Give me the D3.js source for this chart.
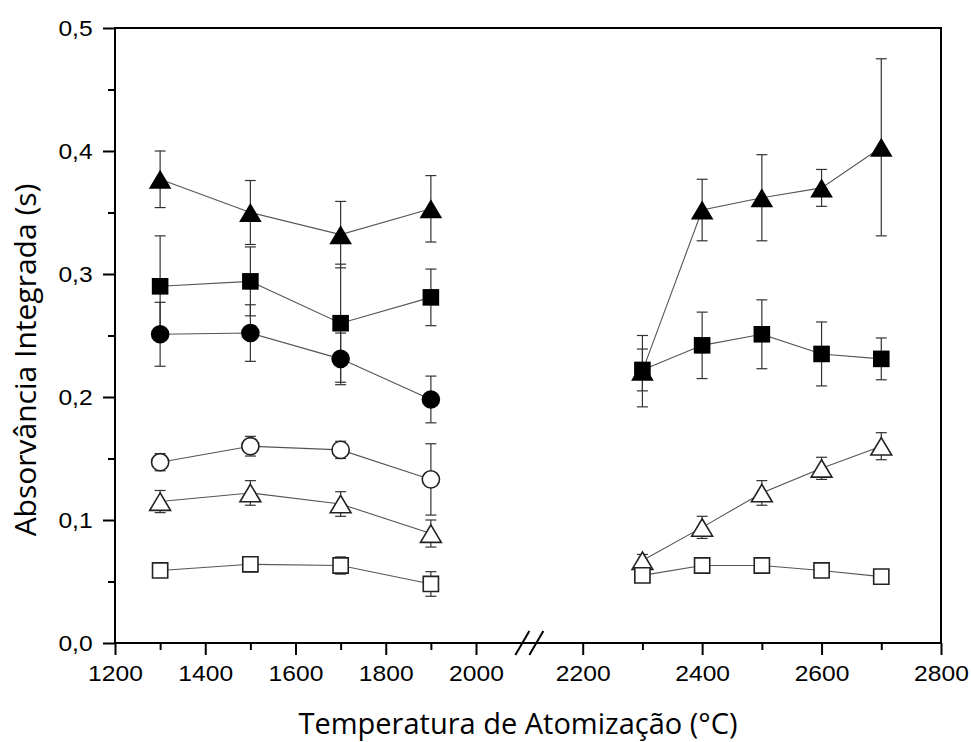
<!DOCTYPE html>
<html>
<head>
<meta charset="utf-8">
<script src="https://cdnjs.cloudflare.com/ajax/libs/d3/7.8.5/d3.min.js"></script>
<style>
    body { margin: 0; background: #fff; }
</style>
</head>
<body>
<div id="plot"></div>
<script>
//Temperatures on both sides of the axis break
const tempLeft = [1300, 1500, 1700, 1900];
const tempRight = [2300, 2400, 2500, 2600, 2700];

//Tick values
const xTicksLeft = [1200, 1400, 1600, 1800, 2000];
const xMinorLeft = [1300, 1500, 1700, 1900];
const xTicksRight = [2200, 2400, 2600, 2800];
const xMinorRight = [2300, 2500, 2700];
const yTicks = [0, 0.1, 0.2, 0.3, 0.4, 0.5];
const yMinor = [0.05, 0.15, 0.25, 0.35, 0.45];

//Integrated absorbance and error, one array per marker type
const filledTriLeft = [0.377, 0.350, 0.332, 0.353];
const filledTriLeftErr = [0.023, 0.026, 0.027, 0.027];
const filledTriRight = [0.221, 0.352, 0.362, 0.370, 0.403];
const filledTriRightErr = [0.029, 0.025, 0.035, 0.015, 0.072];

const filledSqLeft = [0.290, 0.294, 0.260, 0.281];
const filledSqLeftErr = [0.041, 0.028, 0.048, 0.023];
const filledSqRight = [0.222, 0.242, 0.251, 0.235, 0.231];
const filledSqRightErr = [0.017, 0.027, 0.028, 0.026, 0.017];

const filledCircLeft = [0.251, 0.252, 0.231, 0.198];
const filledCircLeftErr = [0.026, 0.023, 0.021, 0.019];

const openCircLeft = [0.147, 0.160, 0.157, 0.133];
const openCircLeftErr = [0.007, 0.008, 0.007, 0.029];

const openTriLeft = [0.115, 0.122, 0.113, 0.089];
const openTriLeftErr = [0.009, 0.010, 0.010, 0.011];
const openTriRight = [0.067, 0.094, 0.122, 0.142, 0.160];
const openTriRightErr = [0.005, 0.009, 0.010, 0.009, 0.011];

const openSqLeft = [0.059, 0.064, 0.063, 0.048];
const openSqLeftErr = [0.004, 0.006, 0.007, 0.010];
const openSqRight = [0.055, 0.063, 0.063, 0.059, 0.054];
const openSqRightErr = [0.004, 0.006, 0.006, 0.004, 0.004];

//Series table built from the arrays above
const series = [
    { shape: "triangle", filled: true, left: filledTriLeft, leftErr: filledTriLeftErr, right: filledTriRight, rightErr: filledTriRightErr },
    { shape: "square", filled: true, left: filledSqLeft, leftErr: filledSqLeftErr, right: filledSqRight, rightErr: filledSqRightErr },
    { shape: "circle", filled: true, left: filledCircLeft, leftErr: filledCircLeftErr, right: [], rightErr: [] },
    { shape: "circle", filled: false, left: openCircLeft, leftErr: openCircLeftErr, right: [], rightErr: [] },
    { shape: "triangle", filled: false, left: openTriLeft, leftErr: openTriLeftErr, right: openTriRight, rightErr: openTriRightErr },
    { shape: "square", filled: false, left: openSqLeft, leftErr: openSqLeftErr, right: openSqRight, rightErr: openSqRightErr }
];

const w = 971;
const h = 742;
const tickFont = "'Liberation Sans', Arial, sans-serif";
const titleFont = "'Open Sans', sans-serif";
const svg = d3.select("#plot")
    .append("svg")
    .attr("width", w)
    .attr("height", h);

//Broken x axis: two scales with different spacing
const xLeft = d3.scaleLinear().domain([1200, 2000]).range([115, 476]);
const xRight = d3.scaleLinear().domain([2200, 2800]).range([582.7, 941]);
const y = d3.scaleLinear().domain([0, 0.5]).range([643, 28]);

//Decimal comma for the y labels
const ptBR = d3.formatLocale({ decimal: ",", thousands: ".", grouping: [3], currency: ["", ""] });
const yFormat = ptBR.format(".1f");

//Turn each segment into a flat list of points
const points = [];
series.forEach((s, si) => {
    s.left.forEach((v, i) => points.push({ si: si, seg: 0, x: xLeft(tempLeft[i]), v: v, e: s.leftErr[i] }));
    s.right.forEach((v, i) => points.push({ si: si, seg: 1, x: xRight(tempRight[i]), v: v, e: s.rightErr[i] }));
});

//Connecting lines, one per series and per segment
const line = d3.line().x(d => d.x).y(d => y(d.v));
series.forEach((s, si) => {
    [0, 1].forEach(seg => {
        const pts = points.filter(p => p.si === si && p.seg === seg);
        if (pts.length < 2) return;
        svg.append("path")
            .attr("d", line(pts))
            .attr("fill", "none")
            .attr("stroke", "#555")
            .attr("stroke-width", 1.1);
    });
});

//Error bars with caps
const capHalf = 5.5;
const err = svg.append("g")
    .attr("stroke", "#333")
    .attr("stroke-width", 1.2);
points.forEach(p => {
    const y0 = y(p.v - p.e);
    const y1 = y(p.v + p.e);
    err.append("line").attr("x1", p.x).attr("x2", p.x).attr("y1", y0).attr("y2", y1);
    err.append("line").attr("x1", p.x - capHalf).attr("x2", p.x + capHalf).attr("y1", y0).attr("y2", y0);
    err.append("line").attr("x1", p.x - capHalf).attr("x2", p.x + capHalf).attr("y1", y1).attr("y2", y1);
});

//Marker shapes, centred on the bounding box
const circlePath = (r) => d3.arc()({ innerRadius: 0, outerRadius: r, startAngle: 0, endAngle: 2 * Math.PI });
const markerPath = (s) => {
    if (s.filled) {
        if (s.shape === "triangle") return "M0,-9.5L11.3,9.5L-11.3,9.5Z";
        if (s.shape === "square") return "M-8.3,-8.3H8.3V8.3H-8.3Z";
        return circlePath(9.3);
    }
    //open markers a bit smaller so the stroke keeps the same outer size
    if (s.shape === "triangle") return "M0,-8.6L10.4,8.8L-10.4,8.8Z";
    if (s.shape === "square") return "M-7.6,-7.6H7.6V7.6H-7.6Z";
    return circlePath(8.6);
};

svg.append("g")
    .selectAll("path")
    .data(points)
    .enter()
    .append("path")
    .attr("transform", d => "translate(" + d.x + "," + y(d.v) + ")")
    .attr("d", d => markerPath(series[d.si]))
    .attr("fill", d => series[d.si].filled ? "#000" : "#fff")
    .attr("stroke", d => series[d.si].filled ? "none" : "#222")
    .attr("stroke-width", 1.6);

//Frame around the plot
svg.append("rect")
    .attr("x", xLeft(1200))
    .attr("y", y(0.5))
    .attr("width", xRight(2800) - xLeft(1200))
    .attr("height", y(0) - y(0.5))
    .attr("fill", "none")
    .attr("stroke", "#000")
    .attr("stroke-width", 2);

//Helper to style an axis group
const styleAxis = (g) => {
    g.select(".domain").remove();
    g.attr("font-family", tickFont).attr("font-size", 22);
    g.selectAll("line").attr("stroke", "#000").attr("stroke-width", 2);
    g.selectAll("text").attr("fill", "#000");
};

//Bottom axes, major and minor ticks
svg.append("g")
    .attr("transform", "translate(0," + y(0) + ")")
    .call(d3.axisBottom(xLeft).tickValues(xTicksLeft).tickSize(12).tickPadding(10).tickFormat(d3.format("d")))
    .call(styleAxis);
svg.append("g")
    .attr("transform", "translate(0," + y(0) + ")")
    .call(d3.axisBottom(xLeft).tickValues(xMinorLeft).tickSize(7).tickFormat(""))
    .call(styleAxis);
svg.append("g")
    .attr("transform", "translate(0," + y(0) + ")")
    .call(d3.axisBottom(xRight).tickValues(xTicksRight).tickSize(12).tickPadding(10).tickFormat(d3.format("d")))
    .call(styleAxis);
svg.append("g")
    .attr("transform", "translate(0," + y(0) + ")")
    .call(d3.axisBottom(xRight).tickValues(xMinorRight).tickSize(7).tickFormat(""))
    .call(styleAxis);

//Left axis, major and minor ticks
svg.append("g")
    .attr("transform", "translate(" + xLeft(1200) + ",0)")
    .call(d3.axisLeft(y).tickValues(yTicks).tickSize(12).tickPadding(8).tickFormat(yFormat))
    .call(styleAxis);
svg.append("g")
    .attr("transform", "translate(" + xLeft(1200) + ",0)")
    .call(d3.axisLeft(y).tickValues(yMinor).tickSize(7).tickFormat(""))
    .call(styleAxis);

//Tick labels in the original are a little wider than Arial
svg.selectAll(".tick text").attr("transform", "scale(1.12,1)");

//Break marks between 2000 and 2200
const bx = (xLeft(2000) + xRight(2200)) / 2;
[-7, 7].forEach(dx => {
    svg.append("line")
        .attr("x1", bx + dx - 7).attr("y1", y(0) + 12)
        .attr("x2", bx + dx + 7).attr("y2", y(0) - 12)
        .attr("stroke", "#000")
        .attr("stroke-width", 2);
});

//Axis titles
svg.append("text")
    .attr("x", 518)
    .attr("y", 734)
    .attr("text-anchor", "middle")
    .attr("font-family", titleFont)
    .attr("font-size", 29)
    .text("Temperatura de Atomização (°C)");

svg.append("text")
    .attr("transform", "translate(36," + 360 + ") rotate(-90)")
    .attr("text-anchor", "middle")
    .attr("font-family", titleFont)
    .attr("font-size", 30)
    .text("Absorvância Integrada (s)");
</script>
</body>
</html>
